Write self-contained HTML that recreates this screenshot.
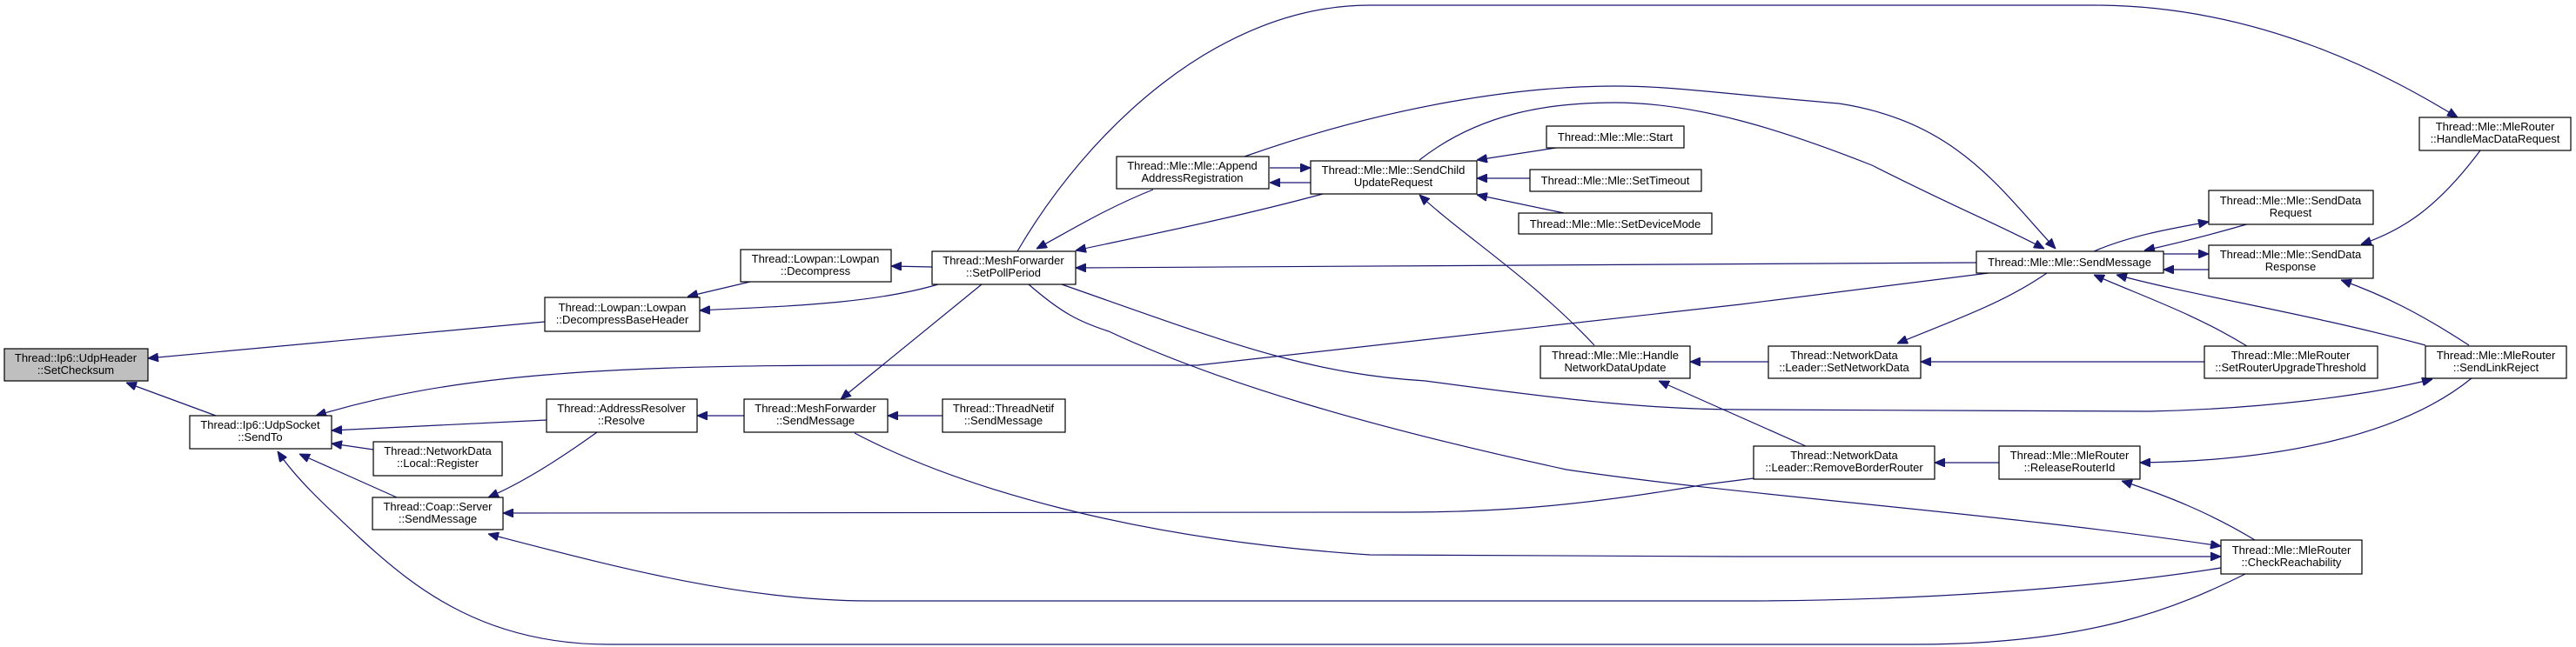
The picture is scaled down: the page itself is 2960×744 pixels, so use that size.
<!DOCTYPE html>
<html><head><meta charset="utf-8"><style>
html,body{margin:0;padding:0;background:#fff;}
svg{display:block;}
text{font-family:"Liberation Sans",Arial,sans-serif;font-size:13px;fill:#000;text-anchor:middle;}
.n{fill:#fff;stroke:#000;stroke-width:1.2;}
.e{fill:none;stroke:#191970;stroke-width:1.2;}
</style></head><body>
<svg width="2960" height="744" viewBox="0 0 2960 744" xmlns="http://www.w3.org/2000/svg">
<defs>
<marker id="a" viewBox="0 0 12 10" refX="12" refY="5" markerWidth="12" markerHeight="10" markerUnits="userSpaceOnUse" orient="auto">
<path d="M0,0 L12,5 L0,10 z" fill="#191970" stroke="#191970"/>
</marker>
</defs>
<g class="e" marker-end="url(#a)">
<path d="M626,370 L170,412"/>
<path d="M248,478 L145,440"/>
<path d="M862,324 L790,341"/>
<path d="M1078,327 C1000,350 900,352 804,357"/>
<path d="M1071,307 L1024,306"/>
<path d="M628,483 L381,495"/>
<path d="M429,517 L381,510"/>
<path d="M456,572 L344,522"/>
<path d="M2285,314 L2000,350 L1376,420 L1000,420 C700,420 520,430 363,478"/>
<path d="M2582,659 C2500,700 2400,741 2200,741 L700,741 C560,741 480,680 415,620 C370,578 340,550 319,519"/>
<path d="M2015,550 L1960,557 C1800,585 1700,589 1612,589 L578,590"/>
<path d="M2552,653 C2400,677 2200,691 2000,691 L1000,691 C850,691 700,650 561,614"/>
<path d="M1083,478 L1020,478"/>
<path d="M855,478 L801,478"/>
<path d="M686,497 C640,530 600,555 561,572"/>
<path d="M1128,327 L966,459"/>
<path d="M982,498 C1100,560 1300,620 1574,638 L2000,640 L2552,640"/>
<path d="M1169,289 C1250,150 1400,6 1574,6 L2406,6 C2600,6 2750,90 2824,135"/>
<path d="M1459,193 L1506,193"/>
<path d="M1506,210 L1459,210"/>
<path d="M1325,218 C1270,240 1230,265 1191,286"/>
<path d="M1520,223 C1420,250 1320,270 1236,288"/>
<path d="M2271,302 L1236,308"/>
<path d="M1788,170 L1697,184"/>
<path d="M1758,205 L1697,205"/>
<path d="M1797,245 L1697,224"/>
<path d="M1832,397 C1760,320 1680,270 1631,224"/>
<path d="M1430,180 C1600,120 1750,99 1855,99 C1920,99 1960,106 2113,119 C2250,140 2300,220 2362,286"/>
<path d="M1631,184 C1700,130 1780,118 1855,118 C1950,118 2050,150 2151,190 C2250,240 2300,260 2349,286"/>
<path d="M1220,327 C1400,390 1500,430 1638,438 C1800,460 1900,471 2000,471 L2470,473 C2600,470 2720,455 2795,436"/>
<path d="M1182,327 C1220,360 1240,370 1274,381 C1400,440 1574,491 1800,540 C2000,570 2300,590 2552,628"/>
<path d="M2032,416 L1942,416"/>
<path d="M2075,513 L1906,438"/>
<path d="M2352,314 C2300,350 2240,370 2180,395"/>
<path d="M2533,416 L2207,416"/>
<path d="M2582,398 C2520,360 2460,340 2406,316"/>
<path d="M2787,397 C2650,360 2520,340 2432,316"/>
<path d="M2406,289 C2450,270 2500,262 2538,255"/>
<path d="M2585,257 C2540,270 2500,280 2464,288"/>
<path d="M2486,292 L2538,292"/>
<path d="M2538,310 L2486,310"/>
<path d="M2850,173 C2800,240 2760,265 2713,281"/>
<path d="M2837,397 C2780,360 2740,340 2690,322"/>
<path d="M2297,532 L2223,532"/>
<path d="M2840,435 C2760,500 2620,530 2459,532"/>
<path d="M2591,621 C2540,590 2490,570 2438,553"/>
</g>
<g>
<rect class="n" x="5" y="401" width="165" height="37" style="fill:#bfbfbf"/><text x="87" y="416">Thread::Ip6::UdpHeader</text><text x="87" y="430">::SetChecksum</text>
<rect class="n" x="218" y="478" width="163" height="38"/><text x="299" y="493">Thread::Ip6::UdpSocket</text><text x="299" y="507">::SendTo</text>
<rect class="n" x="626" y="342" width="178" height="39"/><text x="715" y="358">Thread::Lowpan::Lowpan</text><text x="715" y="372">::DecompressBaseHeader</text>
<rect class="n" x="851" y="287" width="173" height="37"/><text x="937" y="302">Thread::Lowpan::Lowpan</text><text x="937" y="316">::Decompress</text>
<rect class="n" x="628" y="459" width="173" height="38"/><text x="714" y="474">Thread::AddressResolver</text><text x="714" y="488">::Resolve</text>
<rect class="n" x="855" y="459" width="165" height="38"/><text x="937" y="474">Thread::MeshForwarder</text><text x="937" y="488">::SendMessage</text>
<rect class="n" x="429" y="508" width="148" height="39"/><text x="503" y="523">Thread::NetworkData</text><text x="503" y="537">::Local::Register</text>
<rect class="n" x="428" y="572" width="150" height="37"/><text x="503" y="587">Thread::Coap::Server</text><text x="503" y="601">::SendMessage</text>
<rect class="n" x="1071" y="289" width="165" height="38"/><text x="1153" y="304">Thread::MeshForwarder</text><text x="1153" y="318">::SetPollPeriod</text>
<rect class="n" x="1283" y="180" width="175" height="37"/><text x="1370" y="195">Thread::Mle::Mle::Append</text><text x="1370" y="209">AddressRegistration</text>
<rect class="n" x="1506" y="185" width="191" height="38"/><text x="1601" y="200">Thread::Mle::Mle::SendChild</text><text x="1601" y="214">UpdateRequest</text>
<rect class="n" x="1777" y="145" width="158" height="25"/><text x="1856" y="162">Thread::Mle::Mle::Start</text>
<rect class="n" x="1758" y="195" width="197" height="25"/><text x="1856" y="212">Thread::Mle::Mle::SetTimeout</text>
<rect class="n" x="1745" y="245" width="222" height="24"/><text x="1856" y="262">Thread::Mle::Mle::SetDeviceMode</text>
<rect class="n" x="1770" y="398" width="172" height="37"/><text x="1856" y="413">Thread::Mle::Mle::Handle</text><text x="1856" y="427">NetworkDataUpdate</text>
<rect class="n" x="1083" y="459" width="141" height="38"/><text x="1153" y="474">Thread::ThreadNetif</text><text x="1153" y="488">::SendMessage</text>
<rect class="n" x="2780" y="135" width="174" height="38"/><text x="2867" y="150">Thread::Mle::MleRouter</text><text x="2867" y="164">::HandleMacDataRequest</text>
<rect class="n" x="2538" y="219" width="189" height="39"/><text x="2632" y="235">Thread::Mle::Mle::SendData</text><text x="2632" y="249">Request</text>
<rect class="n" x="2271" y="289" width="215" height="25"/><text x="2378" y="306">Thread::Mle::Mle::SendMessage</text>
<rect class="n" x="2538" y="282" width="189" height="38"/><text x="2632" y="297">Thread::Mle::Mle::SendData</text><text x="2632" y="311">Response</text>
<rect class="n" x="2032" y="398" width="175" height="37"/><text x="2119" y="413">Thread::NetworkData</text><text x="2119" y="427">::Leader::SetNetworkData</text>
<rect class="n" x="2533" y="398" width="199" height="37"/><text x="2632" y="413">Thread::Mle::MleRouter</text><text x="2632" y="427">::SetRouterUpgradeThreshold</text>
<rect class="n" x="2787" y="398" width="162" height="37"/><text x="2868" y="413">Thread::Mle::MleRouter</text><text x="2868" y="427">::SendLinkReject</text>
<rect class="n" x="2015" y="513" width="208" height="38"/><text x="2119" y="528">Thread::NetworkData</text><text x="2119" y="542">::Leader::RemoveBorderRouter</text>
<rect class="n" x="2297" y="513" width="162" height="38"/><text x="2378" y="528">Thread::Mle::MleRouter</text><text x="2378" y="542">::ReleaseRouterId</text>
<rect class="n" x="2552" y="621" width="162" height="39"/><text x="2633" y="637">Thread::Mle::MleRouter</text><text x="2633" y="651">::CheckReachability</text>
</g>
</svg>
</body></html>
